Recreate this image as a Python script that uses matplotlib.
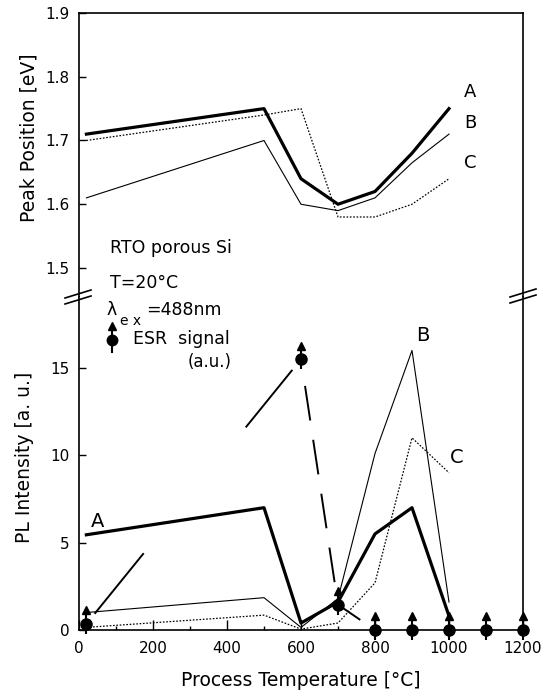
import numpy as np
import matplotlib
matplotlib.use("Agg")
import matplotlib.pyplot as plt

plt.rcParams['font.family'] = ['DejaVu Sans']
plt.rcParams['lines.scale_dashes'] = False

# process temperatures of the PL samples
temp = np.array([20, 500, 600, 700, 800, 900, 1000])

# peak position [eV]
peak_A = np.array([1.71, 1.75, 1.64, 1.60, 1.62, 1.68, 1.75])
peak_B = np.array([1.61, 1.70, 1.60, 1.59, 1.61, 1.665, 1.71])
peak_C = np.array([1.70, 1.74, 1.75, 1.58, 1.58, 1.60, 1.64])

# PL intensity [a.u.]
pl_A = np.array([5.45, 7.0, 0.4, 1.6, 5.5, 7.0, 0.8])
pl_B = np.array([1.0, 1.85, 0.15, 1.8, 10.1, 16.0, 1.6])
pl_C = np.array([0.15, 0.85, 0.05, 0.4, 2.7, 11.0, 9.0])

# ESR signal [a.u.]
esr_x = np.array([20, 600, 700, 800, 900, 1000, 1100, 1200])
esr_y = np.array([0.35, 15.5, 1.45, 0.0, 0.0, 0.0, 0.0, 0.0])

W, H = 543, 691
fig = plt.figure(figsize=(W / 100, H / 100), dpi=100)
L, R = 79 / W, 523 / W
ax_top = fig.add_axes([L, 1 - 297 / H, R - L, (297 - 13) / H])
ax_bot = fig.add_axes([L, 1 - 630 / H, R - L, (630 - 297) / H])

thick, thin = 2.3, 0.8
dotted = (0, (1.2, 1.2))

# ---- top panel: peak position
ax_top.plot(temp, peak_A, color='black', lw=thick)
ax_top.plot(temp, peak_B, color='black', lw=thin)
ax_top.plot(temp, peak_C, color='black', lw=0.9, ls=dotted)
ax_top.set_xlim(0, 1200)
ax_top.set_ylim(1.4545, 1.9)
ax_top.set_yticks([1.5, 1.6, 1.7, 1.8, 1.9])
ax_top.set_yticklabels(['1.5', '1.6', '1.7', '1.8', '1.9'])
ax_top.set_xticks([])
ax_top.spines['bottom'].set_visible(False)
for lab, y in zip(['A', 'B', 'C'], [1.776, 1.727, 1.664]):
    ax_top.text(1057, y, lab, fontsize=13, ha='center', va='center')

# ---- bottom panel: PL intensity + ESR
ax_bot.plot(temp, pl_A, color='black', lw=thick)
ax_bot.plot(temp, pl_B, color='black', lw=thin)
ax_bot.plot(temp, pl_C, color='black', lw=0.9, ls=dotted)

# ESR connecting line, long broken dashes (pattern in points per segment)
px = 72 / 100
seg_dash = {
    0: (330 * px, (78 * px, 162 * px, 74 * px, 29 * px)),
    1: (223.5 * px, (35 * px, 19.5 * px, 35 * px, 19.5 * px, 35 * px, 19.5 * px, 35 * px, 52 * px)),
    2: (33 * px, (22 * px, 16 * px)),
}
for i, ls in seg_dash.items():
    ax_bot.plot(esr_x[i:i + 2], esr_y[i:i + 2], color='black', lw=1.4, ls=ls,
                dash_capstyle='butt')

up, down, tri = 0.7, 0.57, 0.78
ax_bot.vlines(esr_x, esr_y - down, esr_y + up, color='black', lw=1.5, clip_on=False, zorder=4)
ax_bot.plot(esr_x, esr_y + tri, '^', color='black', ms=6, clip_on=False, zorder=4)
ax_bot.plot(esr_x, esr_y, 'o', color='black', ms=8, clip_on=False, zorder=5)

# legend glyph
gx, gy = 90, 16.6
ax_bot.vlines([gx], gy - 0.75, gy + up, color='black', lw=1.5, zorder=4)
ax_bot.plot([gx], [gy + tri], '^', color='black', ms=6, zorder=4)
ax_bot.plot([gx], [gy], 'o', color='black', ms=7.5, zorder=5)

ax_bot.set_xlim(0, 1200)
ax_bot.set_ylim(0, 19.06)
ax_bot.set_yticks([0, 5, 10, 15])
ax_bot.set_xticks([0, 200, 400, 600, 800, 1000, 1200])
ax_bot.set_xticks(np.arange(100, 1200, 200), minor=True)
ax_bot.spines['top'].set_visible(False)
ax_bot.text(51, 6.2, 'A', fontsize=14, ha='center', va='center')
ax_bot.text(930, 16.85, 'B', fontsize=14, ha='center', va='center')
ax_bot.text(1022, 9.9, 'C', fontsize=14, ha='center', va='center')

for ax in (ax_top, ax_bot):
    for s in ax.spines.values():
        s.set_linewidth(1.2)
    ax.tick_params(axis='y', direction='in', length=5, width=1, labelsize=11, pad=7,
                   right=False)
    ax.tick_params(axis='x', which='major', direction='in', length=7, width=1,
                   labelsize=11, pad=8, top=False)
    ax.tick_params(axis='x', which='minor', direction='in', length=3, width=1, top=False)

# axis break marks
def fx(x):
    return x / W

def fy(y):
    return 1 - y / H

for cx, cy in [(78, 297), (523, 296)]:
    for dy in (-3, 3):
        fig.lines.append(plt.Line2D([fx(cx - 13), fx(cx + 13)], [fy(cy + dy + 4), fy(cy + dy - 4)],
                                    transform=fig.transFigure, color='black', lw=1.2))

# annotation block
fig.text(fx(110), fy(248), 'RTO porous Si', fontsize=12.5, va='center')
fig.text(fx(110), fy(283), 'T=20°C', fontsize=12.5, va='center')
fig.text(fx(107), fy(310), 'λ', fontsize=12.5, va='center')
fig.text(fx(120), fy(321), 'e x', fontsize=10, va='center')
fig.text(fx(146), fy(310), '=488nm', fontsize=12.5, va='center')
fig.text(fx(133), fy(339), 'ESR  signal', fontsize=12.5, va='center')
fig.text(fx(188), fy(362), '(a.u.)', fontsize=12, va='center')

# axis labels
fig.text(fx(29), fy(138), 'Peak Position [eV]', fontsize=13.5, rotation=90,
         ha='center', va='center')
fig.text(fx(25), fy(457), 'PL Intensity [a. u.]', fontsize=13.5, rotation=90,
         ha='center', va='center')
fig.text(fx(301), fy(680), 'Process Temperature [°C]', fontsize=13.5,
         ha='center', va='center')

fig.savefig('out.png', dpi=100)
